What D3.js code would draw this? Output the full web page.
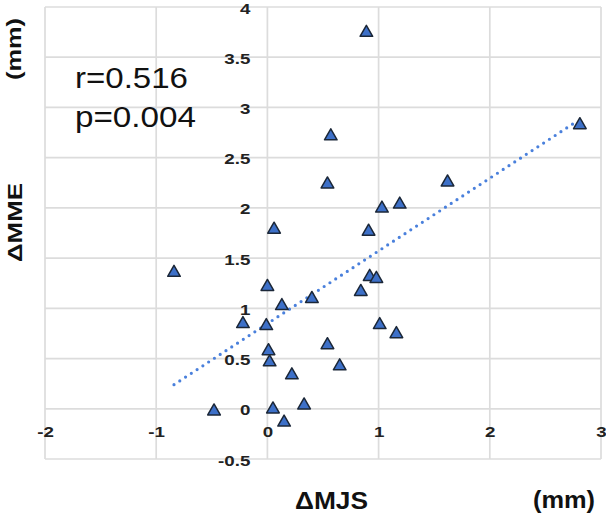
<!DOCTYPE html>
<html>
<head>
<meta charset="utf-8">
<script src="https://cdn.jsdelivr.net/npm/d3@7"></script>
<style>
  html, body { margin: 0; padding: 0; background: #fff; }
  svg { display: block; font-family: "Liberation Sans", Arial, sans-serif; }
</style>
</head>
<body>
<svg id="chart" width="606" height="516"></svg>
<script>
// ---- data ----
const mjs = [0.89, 2.81, 0.57, 0.54, 1.62, 1.03, 1.19, 0.91, 0.06, -0.84, 0.00, 0.13, -0.22, -0.01, 0.01,
             0.02, 0.22, -0.48, 0.05, 0.15, 0.33, 0.40, 0.84, 0.92, 0.98, 1.01, 1.16, 0.54, 0.65];
const mme = [3.76, 2.84, 2.73, 2.25, 2.27, 2.01, 2.05, 1.78, 1.80, 1.37, 1.23, 1.04, 0.86, 0.84, 0.59,
             0.48, 0.35, -0.01, 0.01, -0.12, 0.05, 1.11, 1.18, 1.33, 1.31, 0.85, 0.76, 0.65, 0.44];
const trendX = [-0.84, 2.78];
const trendY = [0.24, 2.86];
const xTicks = [-2, -1, 0, 1, 2, 3];
const yTicks = [-0.5, 0, 0.5, 1, 1.5, 2, 2.5, 3, 3.5, 4];
const xTitle = "ΔMJS";
const yTitle = "ΔMME";
const unit = "(mm)";
const statR = "r=0.516";
const statP = "p=0.004";

// ---- layout ----
const svg = d3.select("#chart");
const x = d3.scaleLinear().domain([-2, 3]).range([45, 601]);
const y = d3.scaleLinear().domain([-0.5, 4]).range([459, 7]);

const gridColor = "#dcdcdc";
const labelColor = "#222";
const fmt = d => String(d);

// grid
const grid = svg.append("g");
grid.selectAll("line.v").data(xTicks).join("line")
  .attr("x1", d => x(d)).attr("x2", d => x(d))
  .attr("y1", y(4)).attr("y2", y(-0.5))
  .attr("stroke", gridColor).attr("stroke-width", 1.7);
grid.selectAll("line.h").data(yTicks).join("line")
  .attr("x1", x(-2)).attr("x2", x(3))
  .attr("y1", d => y(d)).attr("y2", d => y(d))
  .attr("stroke", gridColor).attr("stroke-width", 1.7);

// y axis labels (at x=0)
const yAxis = svg.append("g")
  .attr("transform", `translate(${x(0)},0)`)
  .call(d3.axisLeft(y).tickValues(yTicks).tickSize(0).tickPadding(17).tickFormat(fmt));
yAxis.select(".domain").remove();
yAxis.selectAll("text")
  .attr("x", null)
  .attr("dy", "0.4em")
  .attr("transform", "translate(-17,0) scale(1.25,1)")
  .attr("font-size", 15).attr("font-weight", "bold").attr("fill", labelColor)
  .attr("font-family", "Liberation Sans, Arial, sans-serif");

// x axis labels (at y=0)
const xAxis = svg.append("g")
  .attr("transform", `translate(0,${y(0)})`)
  .call(d3.axisBottom(x).tickValues(xTicks).tickSize(0).tickPadding(18).tickFormat(fmt));
xAxis.select(".domain").remove();
xAxis.selectAll("text")
  .attr("font-size", 15).attr("font-weight", "bold").attr("fill", labelColor)
  .attr("font-family", "Liberation Sans, Arial, sans-serif")
  .each(function() {
    const t = d3.select(this);
    const yy = t.attr("y");
    t.attr("y", null).attr("transform", `translate(0,${yy}) scale(1.25,1)`);
  });

// trend line
svg.append("path")
  .datum(trendX.map((d, i) => [d, trendY[i]]))
  .attr("d", d3.line().x(d => x(d[0])).y(d => y(d[1])))
  .attr("fill", "none")
  .attr("stroke", "#4a80dc")
  .attr("stroke-width", 3.2)
  .attr("stroke-linecap", "round")
  .attr("stroke-dasharray", "0,6.9");

// triangles
const tri = "M0,-5.8L6.3,5.2L-6.3,5.2Z";
svg.append("g").selectAll("path").data(mjs.map((d, i) => [d, mme[i]])).join("path")
  .attr("d", tri)
  .attr("transform", d => `translate(${x(d[0])},${y(d[1])})`)
  .attr("fill", "#3d70c8")
  .attr("stroke", "#1b2738")
  .attr("stroke-width", 1.5)
  .attr("stroke-linejoin", "round");

// stats text
svg.append("text").text(statR)
  .attr("x", 75).attr("y", 88)
  .attr("font-size", 29).attr("fill", "#111")
  .attr("textLength", 113).attr("lengthAdjust", "spacingAndGlyphs");
svg.append("text").text(statP)
  .attr("x", 75).attr("y", 127)
  .attr("font-size", 29).attr("fill", "#111")
  .attr("textLength", 121).attr("lengthAdjust", "spacingAndGlyphs");

// x title + unit
svg.append("text").text(xTitle)
  .attr("x", 295).attr("y", 509)
  .attr("font-size", 24).attr("font-weight", "bold").attr("fill", "#111")
  .attr("textLength", 73).attr("lengthAdjust", "spacingAndGlyphs");
svg.append("text").text(unit)
  .attr("x", 533).attr("y", 508)
  .attr("font-size", 24).attr("font-weight", "bold").attr("fill", "#111")
  .attr("textLength", 62).attr("lengthAdjust", "spacingAndGlyphs");

// y title + unit (rotated)
svg.append("text").text(yTitle)
  .attr("transform", "translate(22,222.5) rotate(-90)")
  .attr("text-anchor", "middle")
  .attr("font-size", 21).attr("font-weight", "bold").attr("fill", "#111")
  .attr("textLength", 79).attr("lengthAdjust", "spacingAndGlyphs");
svg.append("text").text(unit)
  .attr("transform", "translate(21,49) rotate(-90)")
  .attr("text-anchor", "middle")
  .attr("font-size", 21).attr("font-weight", "bold").attr("fill", "#111")
  .attr("textLength", 62).attr("lengthAdjust", "spacingAndGlyphs");
</script>
</body>
</html>
